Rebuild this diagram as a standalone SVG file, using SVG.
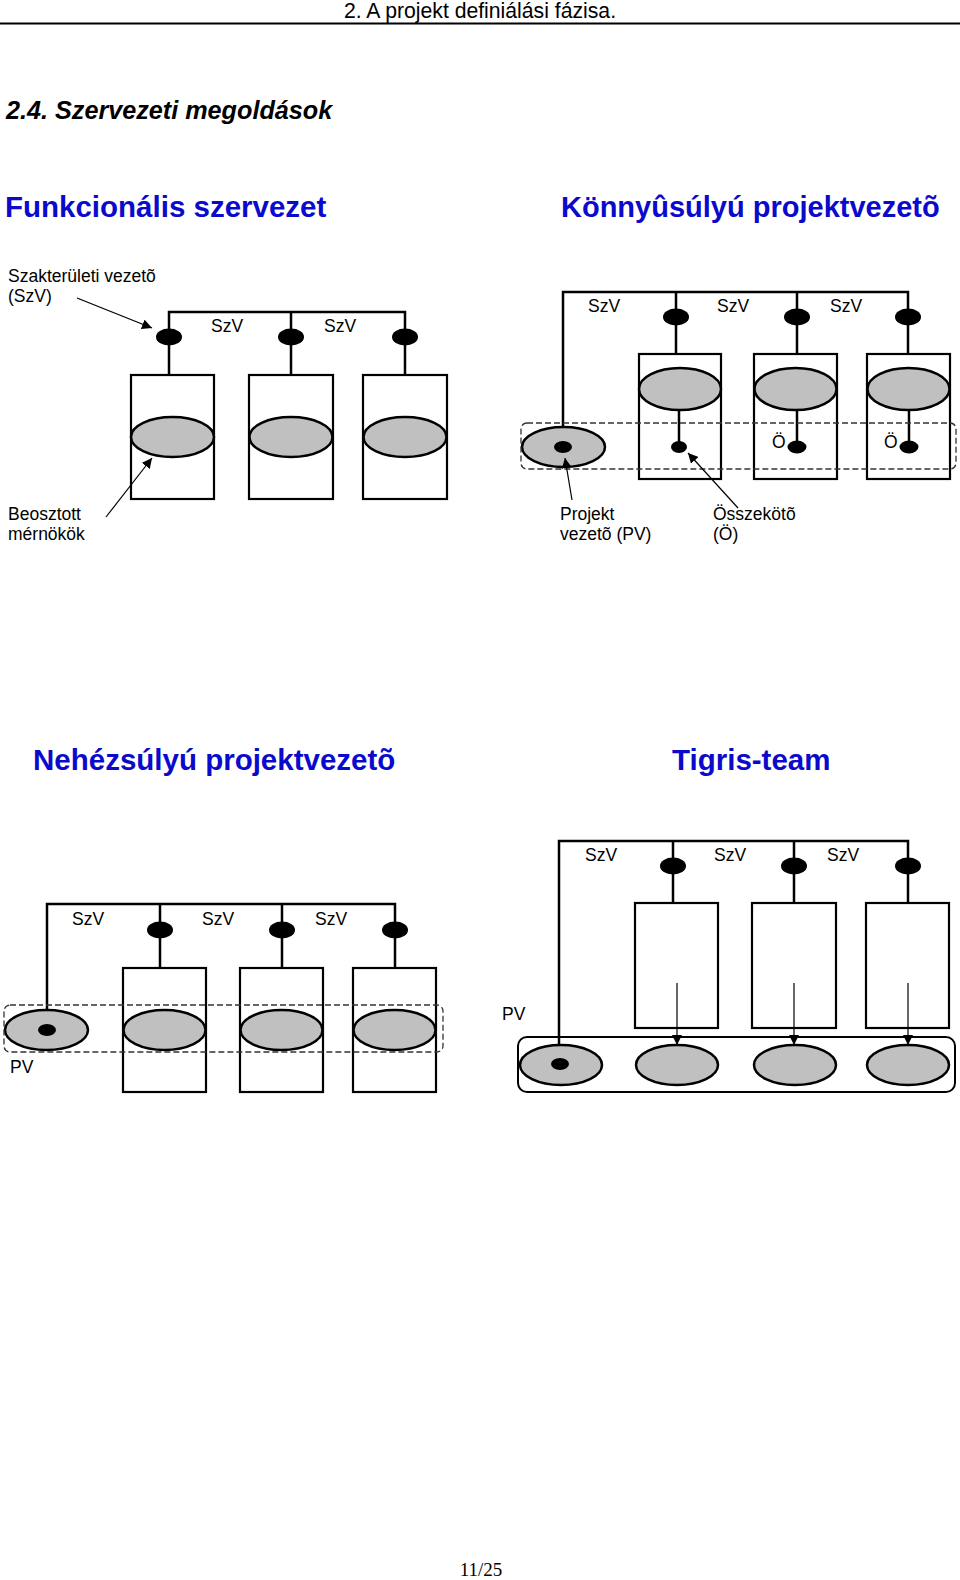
<svg xmlns="http://www.w3.org/2000/svg" width="960" height="1580" viewBox="0 0 960 1580">
<defs>
<style>
.hdr{font-family:"Liberation Sans",Arial,sans-serif;font-size:21.2px;fill:#000}
.sec{font-family:"Liberation Sans",Arial,sans-serif;font-size:25.2px;font-weight:bold;font-style:italic;fill:#000}
.title{font-family:"Liberation Sans",Arial,sans-serif;font-size:29.5px;font-weight:bold;fill:#0a0acd}
.lbl{font-family:"Liberation Sans",Arial,sans-serif;font-size:17.5px;fill:#000}
.foot{font-family:"Liberation Serif","Times New Roman",serif;font-size:19px;fill:#000}
.ln{stroke:#000;stroke-width:2.5;fill:none}
.box{fill:#fff;stroke:#000;stroke-width:2.2}
.gray{fill:#c0c0c0;stroke:#000;stroke-width:2.5}
.dot{fill:#000}
.dash{fill:none;stroke:#333;stroke-width:1.3;stroke-dasharray:6 3}
.solidr{fill:none;stroke:#000;stroke-width:2}
.arr{stroke:#000;stroke-width:1.2;fill:none;marker-end:url(#ah)}
</style>
<marker id="ah" viewBox="0 0 10 10" refX="10" refY="5" markerWidth="10" markerHeight="10" markerUnits="userSpaceOnUse" orient="auto">
<path d="M0,0 L10,5 L0,10 z" fill="#000"/>
</marker>
</defs>
<rect x="0" y="0" width="960" height="1580" fill="#fff"/>

<g id="header">
<text class="hdr" x="480" y="18" text-anchor="middle">2. A projekt definiálási fázisa.</text>
<line x1="0" y1="23.5" x2="960" y2="23.5" stroke="#000" stroke-width="2"/>
<text class="sec" x="6" y="119">2.4. Szervezeti megoldások</text>
</g>

<g id="titles">
<text class="title" x="5" y="217">Funkcionális szervezet</text>
<text class="title" x="561" y="217" style="font-size:29px">Könnyûsúlyú projektvezetõ</text>
<text class="title" x="33" y="770">Nehézsúlyú projektvezetõ</text>
<text class="title" x="672" y="770">Tigris-team</text>
</g>

<!-- ============ Funkcionális szervezet ============ -->
<g id="func-bus">
<path class="ln" d="M169,375 V312 H405 V375 M291,312 V375"/>
</g>
<g id="func-box1"><rect class="box" x="131" y="375" width="83" height="124"/><ellipse class="gray" cx="172.5" cy="437" rx="41.5" ry="20"/><ellipse class="dot" cx="169" cy="337" rx="13" ry="8.5"/></g>
<g id="func-box2"><rect class="box" x="249" y="375" width="84" height="124"/><ellipse class="gray" cx="291" cy="437" rx="41.5" ry="20"/><ellipse class="dot" cx="291" cy="337" rx="13" ry="8.5"/></g>
<g id="func-box3"><rect class="box" x="363" y="375" width="84" height="124"/><ellipse class="gray" cx="405" cy="437" rx="41.5" ry="20"/><ellipse class="dot" cx="405" cy="337" rx="13" ry="8.5"/></g>
<g id="func-arrows">
<line class="arr" x1="77" y1="298" x2="152" y2="328"/>
<line class="arr" x1="106" y1="517" x2="152" y2="458"/>
</g>
<g id="func-labels">
<text class="lbl" x="8" y="282">Szakterületi vezetõ</text>
<text class="lbl" x="8" y="302">(SzV)</text>
<text class="lbl" x="211" y="332">SzV</text>
<text class="lbl" x="324" y="332">SzV</text>
<text class="lbl" x="8" y="520">Beosztott</text>
<text class="lbl" x="8" y="540">mérnökök</text>
</g>

<!-- ============ Könnyûsúlyú projektvezetõ ============ -->
<g id="light-bus">
<path class="ln" d="M563,447 V292 H908 V354 M676,292 V354 M797,292 V354"/>
</g>
<g id="light-box1"><rect class="box" x="639" y="354" width="82" height="125"/><ellipse class="gray" cx="680" cy="389" rx="41" ry="21"/><line class="ln" x1="679" y1="410" x2="679" y2="447" stroke-width="2"/><ellipse class="dot" cx="676" cy="317" rx="13" ry="8.5"/><ellipse class="dot" cx="679" cy="447" rx="8" ry="6"/></g>
<g id="light-box2"><rect class="box" x="754" y="354" width="83" height="125"/><ellipse class="gray" cx="795.5" cy="389" rx="41" ry="21"/><line class="ln" x1="797" y1="410" x2="797" y2="447" stroke-width="2"/><ellipse class="dot" cx="797" cy="317" rx="13" ry="8.5"/><ellipse class="dot" cx="797" cy="447" rx="9.5" ry="6.5"/></g>
<g id="light-box3"><rect class="box" x="867" y="354" width="83" height="125"/><ellipse class="gray" cx="908.5" cy="389" rx="41" ry="21"/><line class="ln" x1="909" y1="410" x2="909" y2="447" stroke-width="2"/><ellipse class="dot" cx="908" cy="317" rx="13" ry="8.5"/><ellipse class="dot" cx="909" cy="447" rx="9.5" ry="6.5"/></g>
<g id="light-pv"><ellipse class="gray" cx="563.5" cy="447" rx="41.5" ry="20"/><ellipse class="dot" cx="563" cy="447" rx="9" ry="6"/></g>
<g id="light-group"><rect class="dash" x="521" y="423" width="435" height="46" rx="6"/></g>
<g id="light-arrows">
<line class="arr" x1="572" y1="500" x2="565" y2="458"/>
<line class="arr" x1="738" y1="508" x2="688" y2="453"/>
</g>
<g id="light-labels">
<text class="lbl" x="588" y="312">SzV</text>
<text class="lbl" x="717" y="312">SzV</text>
<text class="lbl" x="830" y="312">SzV</text>
<text class="lbl" x="772" y="448">Ö</text>
<text class="lbl" x="884" y="448">Ö</text>
<text class="lbl" x="560" y="520">Projekt</text>
<text class="lbl" x="560" y="540">vezetõ (PV)</text>
<text class="lbl" x="713" y="520">Összekötõ</text>
<text class="lbl" x="713" y="540">(Ö)</text>
</g>

<!-- ============ Nehézsúlyú projektvezetõ ============ -->
<g id="heavy-bus">
<path class="ln" d="M47,1030 V904 H395 V968 M160,904 V968 M282,904 V968"/>
</g>
<g id="heavy-box1"><rect class="box" x="123" y="968" width="83" height="124"/><ellipse class="gray" cx="164.5" cy="1030" rx="41" ry="20"/><ellipse class="dot" cx="160" cy="930" rx="13" ry="8.5"/></g>
<g id="heavy-box2"><rect class="box" x="240" y="968" width="83" height="124"/><ellipse class="gray" cx="281.5" cy="1030" rx="41" ry="20"/><ellipse class="dot" cx="282" cy="930" rx="13" ry="8.5"/></g>
<g id="heavy-box3"><rect class="box" x="353" y="968" width="83" height="124"/><ellipse class="gray" cx="394.5" cy="1030" rx="41" ry="20"/><ellipse class="dot" cx="395" cy="930" rx="13" ry="8.5"/></g>
<g id="heavy-pv"><ellipse class="gray" cx="46.5" cy="1030" rx="41.5" ry="20"/><ellipse class="dot" cx="47" cy="1030" rx="9" ry="6"/></g>
<g id="heavy-group"><rect class="dash" x="4" y="1005" width="439" height="47" rx="6"/></g>
<g id="heavy-labels">
<text class="lbl" x="72" y="925">SzV</text>
<text class="lbl" x="202" y="925">SzV</text>
<text class="lbl" x="315" y="925">SzV</text>
<text class="lbl" x="10" y="1073">PV</text>
</g>

<!-- ============ Tigris-team ============ -->
<g id="tiger-bus">
<path class="ln" d="M559,1064 V841 H908 V903 M673,841 V903 M794,841 V903"/>
</g>
<g id="tiger-box1"><rect class="box" x="635" y="903" width="83" height="125"/><ellipse class="dot" cx="673" cy="866" rx="13" ry="8.5"/></g>
<g id="tiger-box2"><rect class="box" x="752" y="903" width="84" height="125"/><ellipse class="dot" cx="794" cy="866" rx="13" ry="8.5"/></g>
<g id="tiger-box3"><rect class="box" x="866" y="903" width="83" height="125"/><ellipse class="dot" cx="908" cy="866" rx="13" ry="8.5"/></g>
<g id="tiger-team">
<rect class="solidr" x="518" y="1037" width="437" height="55" rx="9"/>
<ellipse class="gray" cx="561" cy="1065" rx="41" ry="20"/>
<ellipse class="dot" cx="560" cy="1064" rx="9" ry="6"/>
<ellipse class="gray" cx="677" cy="1065" rx="41" ry="20"/>
<ellipse class="gray" cx="795" cy="1065" rx="41" ry="20"/>
<ellipse class="gray" cx="908" cy="1065" rx="41" ry="20"/>
</g>
<g id="tiger-arrows">
<line class="arr" x1="677" y1="983" x2="677" y2="1045"/>
<line class="arr" x1="794" y1="983" x2="794" y2="1045"/>
<line class="arr" x1="908" y1="983" x2="908" y2="1045"/>
</g>
<g id="tiger-labels">
<text class="lbl" x="585" y="861">SzV</text>
<text class="lbl" x="714" y="861">SzV</text>
<text class="lbl" x="827" y="861">SzV</text>
<text class="lbl" x="502" y="1020">PV</text>
</g>

<g id="footer"><text class="foot" x="481" y="1576" text-anchor="middle">11/25</text></g>
</svg>
